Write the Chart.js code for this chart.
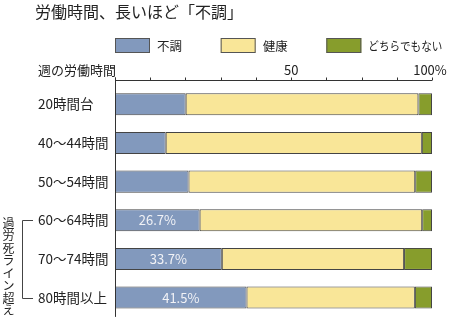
<!DOCTYPE html>
<html>
<head>
<meta charset="utf-8">
<script src="https://cdn.jsdelivr.net/npm/chart.js@4"></script>
<style>
  body { margin: 0; background: #fff; }
  #wrap { width: 450px; height: 328px; }
</style>
</head>
<body>
<div id="wrap"><canvas id="hoursChart" width="450" height="328"></canvas></div>
<script>
const categories = ["20時間台", "40〜44時間", "50〜54時間", "60〜64時間", "70〜74時間", "80時間以上"];
const poorValues = [22.3, 16.0, 23.2, 26.7, 33.7, 41.5];
const otherValues = [4.3, 3.2, 5.3, 3.1, 8.8, 5.4];
const healthyValues = poorValues.map((v, i) => +(100 - v - otherValues[i]).toFixed(1));
const poorLabels = ["", "", "", "26.7%", "33.7%", "41.5%"];
const seriesNames = ["不調", "健康", "どちらでもない"];
const axisTicks = [0, 11.1, 22.2, 33.3, 44.4, 55.6, 66.7, 77.8, 88.9, 100];
const axisTickLabels = ["", "", "", "", "", "50", "", "", "", "100%"];

const FONT = "'Noto Sans CJK JP', 'Noto Sans', sans-serif";
const colors = ["#8299bd", "#f9e698", "#879d2c"];

// title, legend, top axis, bracket and bar labels
const decorations = {
    id: "decorations",
    afterDatasetsDraw(chart) {
        const ctx = chart.ctx;
        const area = chart.chartArea;
        const x = chart.scales.x;
        const y = chart.scales.y;
        ctx.save();
        ctx.fillStyle = "#222";
        ctx.textBaseline = "middle";

        ctx.font = "16px " + FONT;
        ctx.textAlign = "left";
        ctx.fillText("労働時間、長いほど「不調」", 35, 12);

        // legend
        ctx.font = "12.5px " + FONT;
        chart.data.datasets.forEach((ds, i) => {
            const lx = area.left + i * area.width / 3;
            ctx.fillStyle = ds.backgroundColor;
            ctx.fillRect(lx, 38, 35, 15);
            ctx.strokeStyle = "#555";
            ctx.lineWidth = 1;
            ctx.strokeRect(lx + 0.5, 38.5, 34, 14);
            ctx.fillStyle = "#222";
            ctx.fillText(ds.label, lx + 42, 46, 74);
        });

        // top axis
        const axisY = Math.round(area.top) - 5 + 0.5;
        ctx.strokeStyle = "#333";
        ctx.lineWidth = 1;
        ctx.beginPath();
        ctx.moveTo(x.getPixelForValue(0), axisY);
        ctx.lineTo(x.getPixelForValue(100), axisY);
        axisTicks.forEach(t => {
            const px = Math.round(x.getPixelForValue(t)) + 0.5;
            ctx.moveTo(px, axisY);
            ctx.lineTo(px, axisY - 3);
        });
        const left = Math.round(x.getPixelForValue(0)) + 0.5;
        ctx.moveTo(left, axisY - 3);
        ctx.lineTo(left, area.bottom);
        ctx.stroke();

        ctx.font = "13px " + FONT;
        ctx.textAlign = "left";
        ctx.fillText("週の労働時間", 38, 70);
        ctx.textAlign = "center";
        axisTicks.forEach((t, i) => {
            if (axisTickLabels[i]) ctx.fillText(axisTickLabels[i], x.getPixelForValue(t) + (i === 9 ? -2 : 0), 70);
        });

        // labels inside the blue segments
        ctx.fillStyle = "#f1f2f6";
        const meta = chart.getDatasetMeta(0);
        meta.data.forEach((bar, i) => {
            if (!poorLabels[i]) return;
            ctx.fillText(poorLabels[i], (bar.base + bar.x) / 2, bar.y);
        });

        // bracket for rows over the overwork line
        const top = y.getPixelForValue(3);
        const bottom = y.getPixelForValue(5);
        ctx.strokeStyle = "#444";
        ctx.beginPath();
        ctx.moveTo(33, Math.round(top) + 0.5);
        ctx.lineTo(22.5, Math.round(top) + 0.5);
        ctx.lineTo(22.5, Math.round(bottom) + 0.5);
        ctx.lineTo(33, Math.round(bottom) + 0.5);
        ctx.stroke();

        ctx.fillStyle = "#222";
        ctx.font = "12px " + FONT;
        const vertical = "過労死ライン超え";
        [...vertical].forEach((ch, i) => {
            ctx.fillText(ch, 8.5, 223 + i * 12.5);
        });
        ctx.restore();
    }
};

new Chart(document.getElementById("hoursChart"), {
    type: "bar",
    data: {
        labels: categories,
        datasets: [poorValues, healthyValues, otherValues].map((vals, i) => ({
            label: seriesNames[i],
            data: vals,
            backgroundColor: colors[i],
            borderColor: "#444",
            borderWidth: 1,
            borderSkipped: false,
            barPercentage: 0.57,
            categoryPercentage: 1,
        })),
    },
    options: {
        indexAxis: "y",
        responsive: false,
        animation: false,
        layout: { padding: { top: 85, bottom: 3, left: 38, right: 18 } },
        scales: {
            x: { stacked: true, min: 0, max: 100, display: false },
            y: {
                stacked: true,
                grid: { display: false },
                border: { display: false },
                ticks: { color: "#222", font: { family: FONT, size: 13.5 }, crossAlign: "far" },
                afterFit(axis) { axis.width = 77; },
            },
        },
        plugins: {
            legend: { display: false },
            tooltip: { enabled: false },
        },
    },
    plugins: [decorations],
});
</script>
</body>
</html>
